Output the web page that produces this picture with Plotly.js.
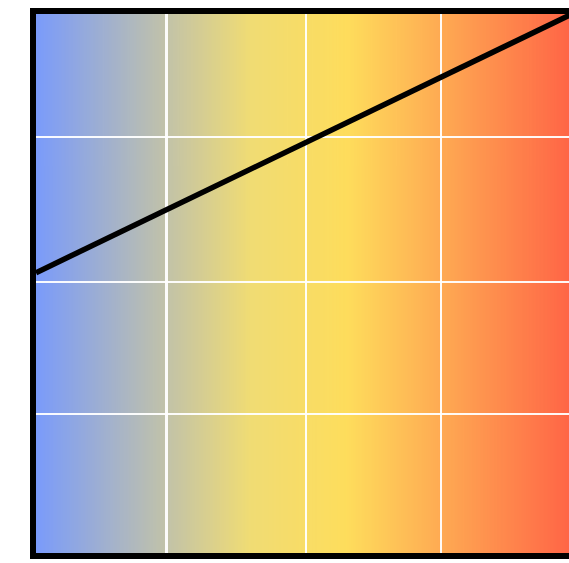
<!DOCTYPE html>
<html>
<head>
<meta charset="utf-8">
<script src="https://cdn.plot.ly/plotly-3.0.1.min.js"></script>
<style>
html,body{margin:0;padding:0;overflow:hidden;background:#fff;}
#chart{width:580px;height:563px;}
</style>
</head>
<body>
<div id="chart"></div>
<script>
// Data
const lineX = [0, 100];
const lineY = [52, 100];
const xGridVals = [24.3, 50.4, 75.6];
const yGridVals = [25.8, 50.3, 77.2];
const gradientStops = [
  [0.0, '#7a9bfb'],
  [0.4, '#f0dc74'],
  [0.58, '#fedd5c'],
  [1.0, '#ff6446']
];

// background gradient image
const cv = document.createElement('canvas');
cv.width = 600; cv.height = 2;
const ctx = cv.getContext('2d');
const g = ctx.createLinearGradient(0, 0, 600, 0);
gradientStops.forEach(s => g.addColorStop(s[0], s[1]));
ctx.fillStyle = g;
ctx.fillRect(0, 0, 600, 2);
const bgURI = cv.toDataURL();

const trace = {
  x: lineX, y: lineY, type: 'scatter', mode: 'lines',
  line: {color: '#000', width: 5.5},
  hoverinfo: 'skip', showlegend: false, cliponaxis: true
};

const axisCommon = {
  range: [0, 100], showline: true, mirror: true, linecolor: '#000', linewidth: 6,
  showgrid: true, gridcolor: 'rgba(255,255,255,0.95)', gridwidth: 2.5,
  tickmode: 'array', showticklabels: false, ticks: '', zeroline: false, fixedrange: true
};

const layout = {
  width: 580, height: 563,
  margin: {l: 36, r: 8, t: 14, b: 10, pad: 0},
  paper_bgcolor: '#ffffff', plot_bgcolor: 'rgba(0,0,0,0)',
  xaxis: Object.assign({}, axisCommon, {tickvals: xGridVals}),
  yaxis: Object.assign({}, axisCommon, {tickvals: yGridVals}),
  images: [{
    source: bgURI, xref: 'paper', yref: 'paper', x: 0, y: 1,
    sizex: 1, sizey: 1, xanchor: 'left', yanchor: 'top',
    sizing: 'stretch', layer: 'below'
  }],
  showlegend: false
};

Plotly.newPlot('chart', [trace], layout, {staticPlot: true, displayModeBar: false});
</script>
</body>
</html>
